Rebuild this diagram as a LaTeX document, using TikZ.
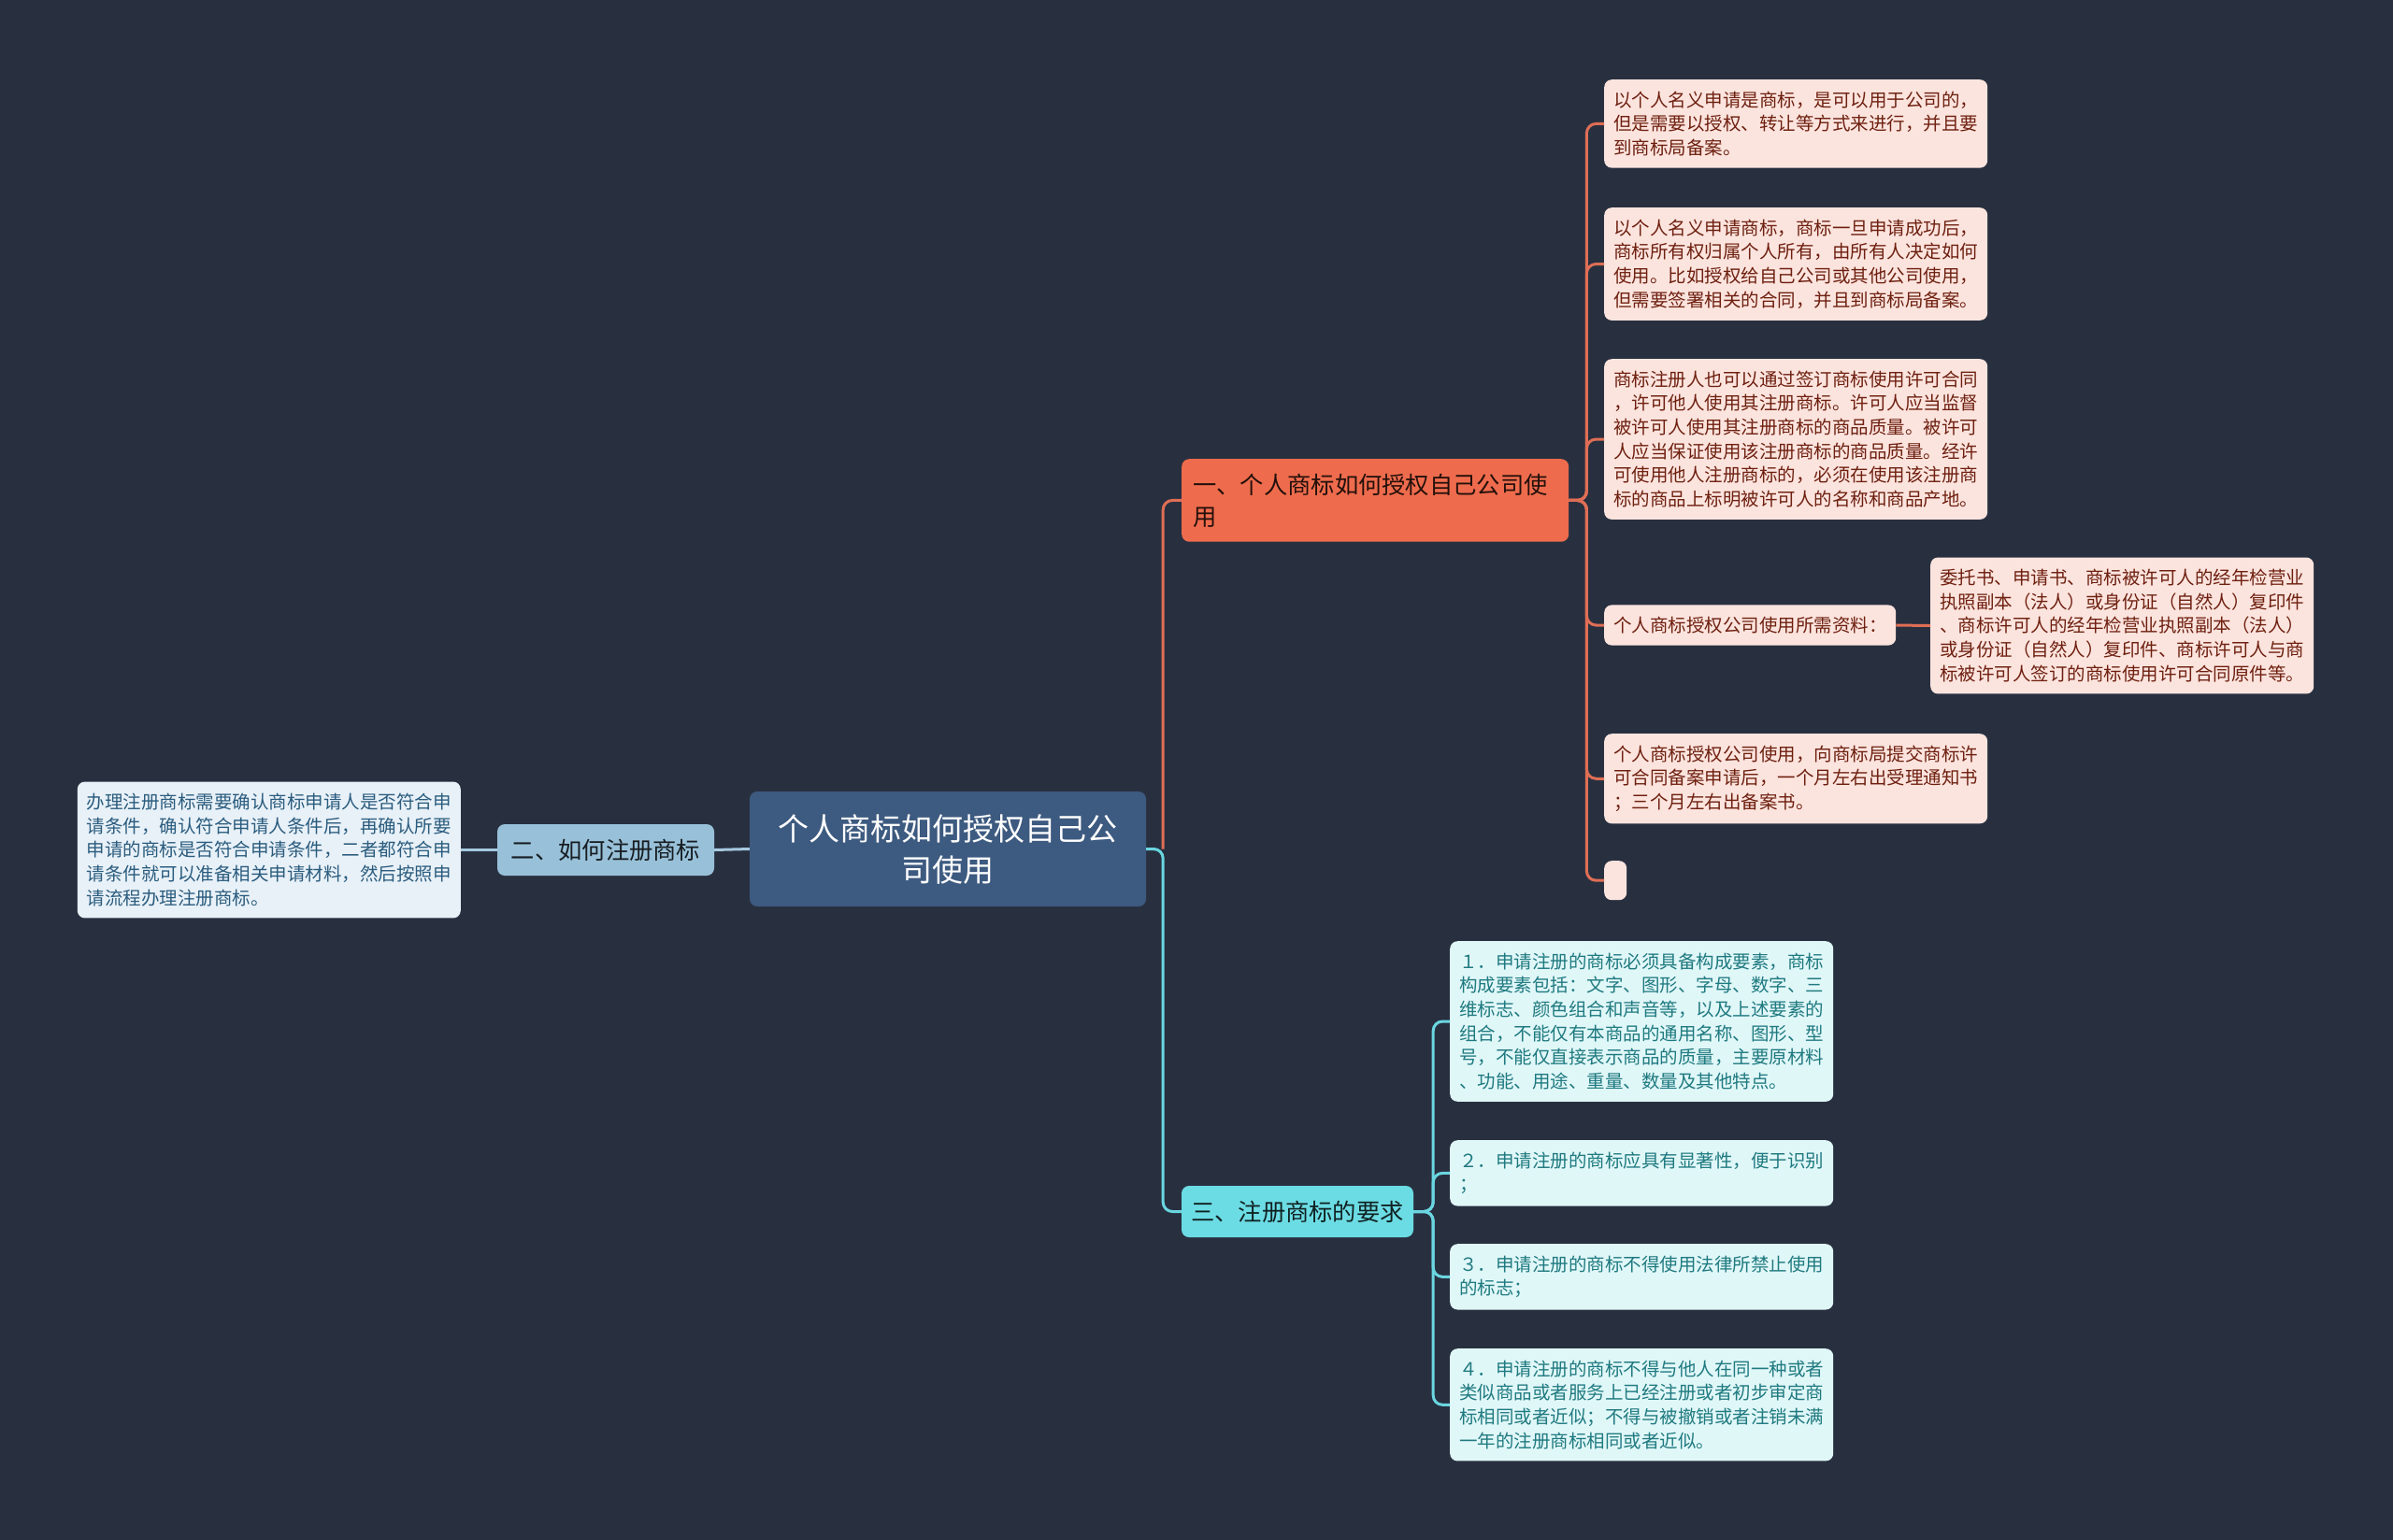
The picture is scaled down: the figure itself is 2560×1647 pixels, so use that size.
\documentclass[tikz,border=0pt]{standalone}
\usepackage{fontspec}
\setmainfont{Noto Sans CJK SC}
\usetikzlibrary{calc}

\definecolor{bgdark}{HTML}{283040}
\definecolor{rootblue}{HTML}{3D5A80}
\definecolor{twoblue}{HTML}{98C1D9}
\definecolor{twopale}{HTML}{E8F1F8}
\definecolor{twotext}{HTML}{2B5C7E}
\definecolor{twoline}{HTML}{A6C9DF}
\definecolor{oneorange}{HTML}{EE6C4D}
\definecolor{onepale}{HTML}{FCE4DE}
\definecolor{onetext}{HTML}{6E2010}
\definecolor{oneline}{HTML}{DF6E55}
\definecolor{threecyan}{HTML}{6CDCE4}
\definecolor{threepale}{HTML}{E0F7F8}
\definecolor{threetext}{HTML}{1F7A80}
\definecolor{threeline}{HTML}{6AD6E0}

\tikzset{
	leaf/.style={rounded corners=8pt, inner xsep=10pt, inner ysep=12.5pt, align=left, anchor=north west, text width=390pt, font=\fontsize{19.5}{25.7}\selectfont},
	oneleaf/.style={leaf, fill=onepale, text=onetext},
	twoleaf/.style={leaf, fill=twopale, text=twotext},
	threeleaf/.style={leaf, fill=threepale, text=threetext},
	branch/.style={rounded corners=8pt, inner sep=0pt, align=center, font=\fontsize{25.3}{34}\selectfont},
	con/.style={line width=3pt, rounded corners=10pt},
}

\begin{document}
\begin{tikzpicture}[x=1pt, y=-1pt]
			%%%%% START %%%%%
			
			\useasboundingbox (0, 0) rectangle (2560, 1647);
			\fill[bgdark] (-5, -5) rectangle (2565, 1652);
			
			% centre
			\node[rounded corners=8pt, fill=rootblue, text=white, align=center, minimum width=424pt, minimum height=123pt, inner sep=0pt, font=\fontsize{33}{44}\selectfont] (root) at (1014, 908.5) {个人商标如何授权自己公\\司使用};
			
			% first branch
			\node[branch, fill=oneorange, text=black!85!oneorange, align=left, anchor=north west, text width=390pt, inner xsep=12pt, inner ysep=15.5pt] (one) at (1264, 491) {一、个人商标如何授权自己公司使\\用};
			
			\node[oneleaf] (a1) at (1716, 85) {以个人名义申请是商标，是可以用于公司的，\\但是需要以授权、转让等方式来进行，并且要\\到商标局备案。};
			\node[oneleaf] (a2) at (1716, 222) {以个人名义申请商标，商标一旦申请成功后，\\商标所有权归属个人所有，由所有人决定如何\\使用。比如授权给自己公司或其他公司使用，\\但需要签署相关的合同，并且到商标局备案。};
			\node[oneleaf] (a3) at (1716, 384) {商标注册人也可以通过签订商标使用许可合同\\，许可他人使用其注册商标。许可人应当监督\\被许可人使用其注册商标的商品质量。被许可\\人应当保证使用该注册商标的商品质量。经许\\可使用他人注册商标的，必须在使用该注册商\\标的商品上标明被许可人的名称和商品产地。};
			\node[oneleaf, text width=292pt, anchor=west] (a4) at (1716, 669) {个人商标授权公司使用所需资料：};
			\node[oneleaf, anchor=west] (a4d) at (2065, 669.5) {委托书、申请书、商标被许可人的经年检营业\\执照副本（法人）或身份证（自然人）复印件\\、商标许可人的经年检营业执照副本（法人）\\或身份证（自然人）复印件、商标许可人与商\\标被许可人签订的商标使用许可合同原件等。};
			\node[oneleaf] (a5) at (1716, 785) {个人商标授权公司使用，向商标局提交商标许\\可合同备案申请后，一个月左右出受理通知书\\；三个月左右出备案书。};
			\node[oneleaf, text width=, inner sep=0pt, minimum width=24pt, minimum height=42pt] (a6) at (1716, 921) {};
			
			% second branch
			\node[branch, fill=twoblue, text=black!85!twoblue, minimum width=232pt, minimum height=55pt] (two) at (648, 909.5) {二、如何注册商标};
			\node[twoleaf, anchor=east] (c1) at (493, 909.5) {办理注册商标需要确认商标申请人是否符合申\\请条件，确认符合申请人条件后，再确认所要\\申请的商标是否符合申请条件，二者都符合申\\请条件就可以准备相关申请材料，然后按照申\\请流程办理注册商标。};
			
			% third branch
			\node[branch, fill=threecyan, text=black!85!threecyan, minimum width=248pt, minimum height=55pt] (three) at (1388, 1296.5) {三、注册商标的要求};
			
			\node[threeleaf] (b1) at (1551, 1007) {１．申请注册的商标必须具备构成要素，商标\\构成要素包括：文字、图形、字母、数字、三\\维标志、颜色组合和声音等，以及上述要素的\\组合，不能仅有本商品的通用名称、图形、型\\号，不能仅直接表示商品的质量，主要原材料\\、功能、用途、重量、数量及其他特点。};
			\node[threeleaf] (b2) at (1551, 1220) {２．申请注册的商标应具有显著性，便于识别\\；};
			\node[threeleaf] (b3) at (1551, 1331) {３．申请注册的商标不得使用法律所禁止使用\\的标志；};
			\node[threeleaf] (b4) at (1551, 1443) {４．申请注册的商标不得与他人在同一种或者\\类似商品或者服务上已经注册或者初步审定商\\标相同或者近似；不得与被撤销或者注销未满\\一年的注册商标相同或者近似。};
			
			% connectors
			\draw[con, twoline] (root.west) -- (two.east);
			\draw[con, twoline] (two.west) -- (c1.east);
			
			\draw[con, threeline] (root.east) -- ++(18, 0) |- (three.west);
			\draw[con, oneline] (root.east) ++(18, 0) |- (one.west);
			
			\foreach \k in {a1, a2, a3, a4, a5, a6}
				\draw[con, oneline] (one.east) -- ++(19, 0) |- (\k.west);
			\draw[con, oneline] (a4.east) -- (a4d.west);
			
			\foreach \k in {b1, b2, b3, b4}
				\draw[con, threeline] (three.east) -- ++(21, 0) |- (\k.west);
			
			%%%%% END %%%%%
\end{tikzpicture}
\end{document}
